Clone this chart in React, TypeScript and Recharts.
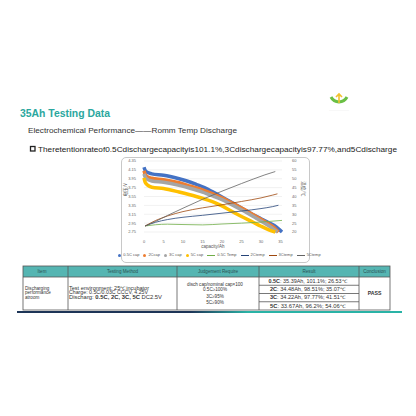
import React from "react";
import {
  CartesianGrid,
  ComposedChart,
  Legend,
  Line,
  XAxis,
  YAxis,
} from "recharts";

// discharge voltage curves [capacity Ah, voltage V]
const cap05C: [number, number][] = [
  [0, 4.21], [0.3, 4.14], [1, 4.09], [2, 4.06], [5, 4.03], [9, 3.95], [11, 3.9],
  [13.5, 3.82], [15.5, 3.75], [17.5, 3.66], [20, 3.54], [22, 3.44], [24, 3.34],
  [26, 3.24], [28, 3.14], [30, 3.05], [32, 2.96], [33.5, 2.89], [34.5, 2.82], [35.39, 2.75],
];
const cap2C: [number, number][] = [
  [0, 4.13], [0.3, 4.05], [1, 3.99], [2, 3.96], [5, 3.93], [9, 3.86], [12, 3.78],
  [15, 3.7], [18, 3.6], [20, 3.52], [22, 3.43], [25, 3.29], [28, 3.14], [30, 3.04],
  [32, 2.93], [33.5, 2.84], [34.48, 2.75],
];
const cap3C: [number, number][] = [
  [0, 4.06], [0.3, 3.99], [1, 3.93], [2, 3.9], [5, 3.87], [9, 3.8], [12, 3.73],
  [15, 3.65], [18, 3.55], [20, 3.48], [22, 3.39], [25, 3.25], [28, 3.1], [30, 3.0],
  [32, 2.89], [33.3, 2.81], [34.22, 2.75],
];
const cap5C: [number, number][] = [
  [0, 3.97], [0.3, 3.87], [1, 3.8], [2, 3.76], [5, 3.73], [9, 3.65], [13.4, 3.55],
  [16, 3.48], [18, 3.42], [20, 3.34], [22, 3.24], [25, 3.1], [28, 2.97], [30, 2.88],
  [32, 2.8], [33.67, 2.75],
];

// temperature curves [capacity Ah, temp C]
const temp05C: [number, number][] = [
  [0.3, 23.4], [3, 24.1], [6, 24.4], [10, 24.2], [15, 24.0], [20, 24.5], [25, 25.0],
  [30, 25.6], [35.39, 26.53],
];
const temp2C: [number, number][] = [
  [0.3, 23.4], [3, 25.5], [6, 27], [10, 28.3], [15, 29.4], [20, 30.6], [25, 31.8],
  [30, 33.2], [33, 34.3], [34.48, 35.07],
];
const temp3C: [number, number][] = [
  [0.3, 23.4], [3, 26.5], [6, 29], [10, 31.5], [15, 33.6], [20, 35.3], [25, 37.2],
  [30, 39.2], [33, 40.8], [34.22, 41.51],
];
const temp5C: [number, number][] = [
  [0.3, 23.4], [3, 26], [6, 29.3], [10, 33.4], [15, 38.4], [20, 43], [25, 47.3],
  [28, 49.8], [31, 52.2], [33.67, 54.06],
];

const xTicks = [0, 5, 10, 15, 20, 25, 30, 35];
const voltTicks = [2.75, 2.95, 3.15, 3.35, 3.55, 3.75, 3.95, 4.15, 4.35];
const tempTicks = [20, 25, 30, 35, 40, 45, 50, 55, 60];

const capNames = ["0.5C cap", "2Ccap", "3C cap", "5C cap"];
const tempNames = ["0.5C Temp", "2Ctemp", "3Ctemp", "5Ctemp"];
const capColors = ["#4472c4", "#ed7d31", "#a5a5a5", "#ffc000"];
const tempColors = ["#70ad47", "#264478", "#9e480e", "#636363"];

// table text
const headers = ["Item", "Testing Method", "Judgement Require", "Result", "Conclusion"];
const itemLines = ["Discharging", "performance", "atroom"];
const methodLines = ["Test environment: 25\u2103incubator", "Charge: 0.5C/0.03C CCCV, 4.25V"];
const judgeLines = ["disch cap/nominal cap\u00d7100", "0.5C\u2265100%", "3C\u226595%", "5C\u226590%"];
const resultRates = ["0.5C", "2C", "3C", "5C"];
const resultText = [
  ": 35.39Ah, 101.1%; 26.53\u2103",
  ": 34.48Ah, 98.51%; 35.07\u2103",
  ": 34.22Ah, 97.77%; 41.51\u2103",
  ": 33.67Ah, 96.2%; 54.06\u2103",
];

const toRows = (pts: [number, number][]) => pts.map(([x, y]) => ({ x, y }));

const capSeries = [cap05C, cap2C, cap3C, cap5C];
const tempSeries = [temp05C, temp2C, temp3C, temp5C];

const font = "'Liberation Sans', Arial, sans-serif";
const tickStyle = { fontSize: 4, fill: "#666", fontFamily: font };

function ChartLegend() {
  const items = [
    ...capNames.map((n, i) => ({ n, c: capColors[i], dot: true })),
    ...tempNames.map((n, i) => ({ n, c: tempColors[i], dot: false })),
  ];
  return (
    <div
      style={{
        display: "flex",
        justifyContent: "center",
        alignItems: "center",
        gap: 4,
        fontSize: 4,
        lineHeight: "12px",
        color: "#555",
        fontFamily: font,
        whiteSpace: "nowrap",
        paddingLeft: 8,
      }}
    >
      {items.map((it) => (
        <span key={it.n} style={{ display: "flex", alignItems: "center", gap: 2 }}>
          {it.dot ? (
            <span style={{ width: 3, height: 3, borderRadius: 2, background: it.c }} />
          ) : (
            <span style={{ width: 8, height: 1, background: it.c }} />
          )}
          {it.n}
        </span>
      ))}
    </div>
  );
}

function DischargeChart() {
  return (
    <ComposedChart width={189} height={106} margin={{ top: 4, right: 0, bottom: 0, left: 0 }}>
      <CartesianGrid yAxisId="v" vertical={false} stroke="#e3e3e3" strokeWidth={0.5} />
      <XAxis
        type="number"
        dataKey="x"
        domain={[0, 35]}
        ticks={xTicks}
        interval={0}
        tick={tickStyle}
        tickLine={false}
        axisLine={false}
        height={17}
        tickMargin={2}
        label={{ value: "capacity/Ah", position: "insideBottom", offset: 1, fontSize: 4.5, fill: "#555", fontFamily: font }}
      />
      <YAxis
        yAxisId="v"
        domain={[2.75, 4.35]}
        ticks={voltTicks}
        interval={0}
        tickFormatter={(v: number) => v.toFixed(2)}
        tick={tickStyle}
        tickLine={false}
        axisLine={false}
        width={23}
        tickMargin={2}
        label={{ value: "电压/V", angle: -90, position: "insideLeft", offset: 4, fontSize: 4.5, fill: "#555", fontFamily: "'Noto Sans CJK SC'" }}
      />
      <YAxis
        yAxisId="t"
        orientation="right"
        domain={[20, 60]}
        ticks={tempTicks}
        interval={0}
        tick={tickStyle}
        tickLine={false}
        axisLine={false}
        width={28}
        tickMargin={4}
        label={{ value: "温度/℃", angle: 90, position: "insideRight", offset: 6, fontSize: 4.5, fill: "#555", fontFamily: "'Noto Sans CJK SC'" }}
      />
      <Legend verticalAlign="bottom" height={14} content={() => <ChartLegend />} />
      {capSeries.map((pts, i) => (
        <Line
          key={capNames[i]}
          data={toRows(pts)}
          dataKey="y"
          name={capNames[i]}
          yAxisId="v"
          type="monotone"
          stroke={capColors[i]}
          strokeWidth={3.5}
          dot={false}
          isAnimationActive={false}
        />
      ))}
      {tempSeries.map((pts, i) => (
        <Line
          key={tempNames[i]}
          data={toRows(pts)}
          dataKey="y"
          name={tempNames[i]}
          yAxisId="t"
          type="monotone"
          stroke={tempColors[i]}
          strokeWidth={0.8}
          dot={false}
          isAnimationActive={false}
        />
      ))}
    </ComposedChart>
  );
}

const colX = [23, 68, 177, 259, 359, 390];
const headTop = 266;
const headBottom = 277;
const tableBottom = 310;
const resultRowLines = [285.25, 293.5, 301.75];

function ResultTable() {
  const line = "#555";
  const txt = { fontFamily: font, fill: "#333" } as const;
  return (
    <svg width={416} height={60} viewBox="0 260 416 60" style={{ position: "absolute", left: 0, top: 260 }}>
      <rect x={colX[0]} y={headTop} width={colX[5] - colX[0]} height={headBottom - headTop} fill="#55b5b2" />
      {headers.map((h, i) => (
        <text
          key={h}
          x={i === 0 ? 42 : (colX[i] + colX[i + 1]) / 2}
          y={273}
          fontSize={4.6}
          textAnchor="middle"
          fill="#2c5252"
          fontFamily={font}
        >
          {h}
        </text>
      ))}
      {/* grid lines */}
      <rect x={colX[0]} y={headTop} width={colX[5] - colX[0]} height={tableBottom - headTop} fill="none" stroke={line} strokeWidth={0.8} />
      <line x1={colX[0]} x2={colX[5]} y1={headBottom} y2={headBottom} stroke={line} strokeWidth={0.8} />
      {colX.slice(1, 5).map((x) => (
        <line key={x} x1={x} x2={x} y1={headTop} y2={tableBottom} stroke={line} strokeWidth={0.8} />
      ))}
      {resultRowLines.map((y) => (
        <line key={y} x1={colX[3]} x2={colX[4]} y1={y} y2={y} stroke={line} strokeWidth={0.8} />
      ))}
      {itemLines.map((t, i) => (
        <text key={t} x={25} y={289.7 + i * 4.6} fontSize={4.6} {...txt}>
          {t}
        </text>
      ))}
      {methodLines.map((t, i) => (
        <text key={t} x={69} y={289.7 + i * 4.6} fontSize={4.6} textLength={i === 0 ? 80 : 79} lengthAdjust="spacingAndGlyphs" {...txt}>
          {t}
        </text>
      ))}
      <text x={69} y={298.9} fontSize={4.6} textLength={93} lengthAdjust="spacingAndGlyphs" {...txt}>
        Discharg: <tspan fontWeight={700}>0.5C, 2C, 3C, 5C</tspan> DC2.5V
      </text>
      {judgeLines.map((t, i) => (
        <text key={t} x={215} y={[285.7, 290.7, 298, 303.5][i]} fontSize={4.6} textAnchor="middle" {...txt}>
          {t}
        </text>
      ))}
      {resultRates.map((r, i) => (
        <text key={r} x={308} y={282.8 + i * 8.25} fontSize={4.6} textAnchor="middle" textLength={i === 0 ? 79 : 76} lengthAdjust="spacingAndGlyphs" {...txt}>
          <tspan fontWeight={700}>{r}</tspan>
          {resultText[i]}
        </text>
      ))}
      <text x={(colX[4] + colX[5]) / 2} y={295} fontSize={5.2} fontWeight={700} textAnchor="middle" {...txt}>
        PASS
      </text>
    </svg>
  );
}

export default function App() {
  return (
    <div
      style={{
        position: "absolute",
        left: 0,
        top: 0,
        width: 416,
        height: 416,
        background: "#fff",
        overflow: "hidden",
        fontFamily: font,
      }}
    >
      <svg width={416} height={160} style={{ position: "absolute", left: 0, top: 0 }}>
        <text x={20} y={116.7} fontSize={10.5} fontWeight={600} fill="#2ba79e" textLength={90} lengthAdjust="spacingAndGlyphs" fontFamily={font}>
          35Ah Testing Data
        </text>
        <text x={28} y={132.7} fontSize={7.5} fill="#333" textLength={209} lengthAdjust="spacingAndGlyphs" fontFamily={font}>
          Electrochemical Performance——Romm Temp Discharge
        </text>
        <rect x={30.5} y={146.5} width={4.5} height={4.5} fill="none" stroke="#222" strokeWidth={1.3} />
        <text x={38} y={151.7} fontSize={7.3} fill="#222" textLength={359} lengthAdjust="spacingAndGlyphs" fontFamily={font}>
          Theretentionrateof0.5Cdischargecapacityis101.1%,3Cdischargecapacityis97.77%,and5Cdischarge
        </text>
        {/* logo */}
        <path d="M331 97 A9 9 0 0 0 347 97" fill="none" stroke="#6abf45" strokeWidth={3} />
        <path d="M339 94 L339 103 M336 97 L339 94 L342 97" fill="none" stroke="#f2c12e" strokeWidth={1.6} />
        <text x={339} y={111} fontSize={2.5} fill="#ccc" textAnchor="middle" fontFamily={font}>
          ————————
        </text>
      </svg>
      <div
        style={{
          position: "absolute",
          left: 121,
          top: 157,
          width: 189,
          height: 106,
          border: "1px solid #c8c8c8",
          borderRadius: 5,
          boxSizing: "border-box",
        }}
      />
      <div style={{ position: "absolute", left: 121, top: 157 }}>
        <DischargeChart />
      </div>
      <ResultTable />
      <div
        style={{
          position: "absolute",
          left: 17,
          top: 311,
          width: 385,
          height: 2,
          background: "linear-gradient(to right, #1d3557 0%, #1d3557 45%, #2ab3a6 60%, #2ab3a6 100%)",
        }}
      />
    </div>
  );
}
